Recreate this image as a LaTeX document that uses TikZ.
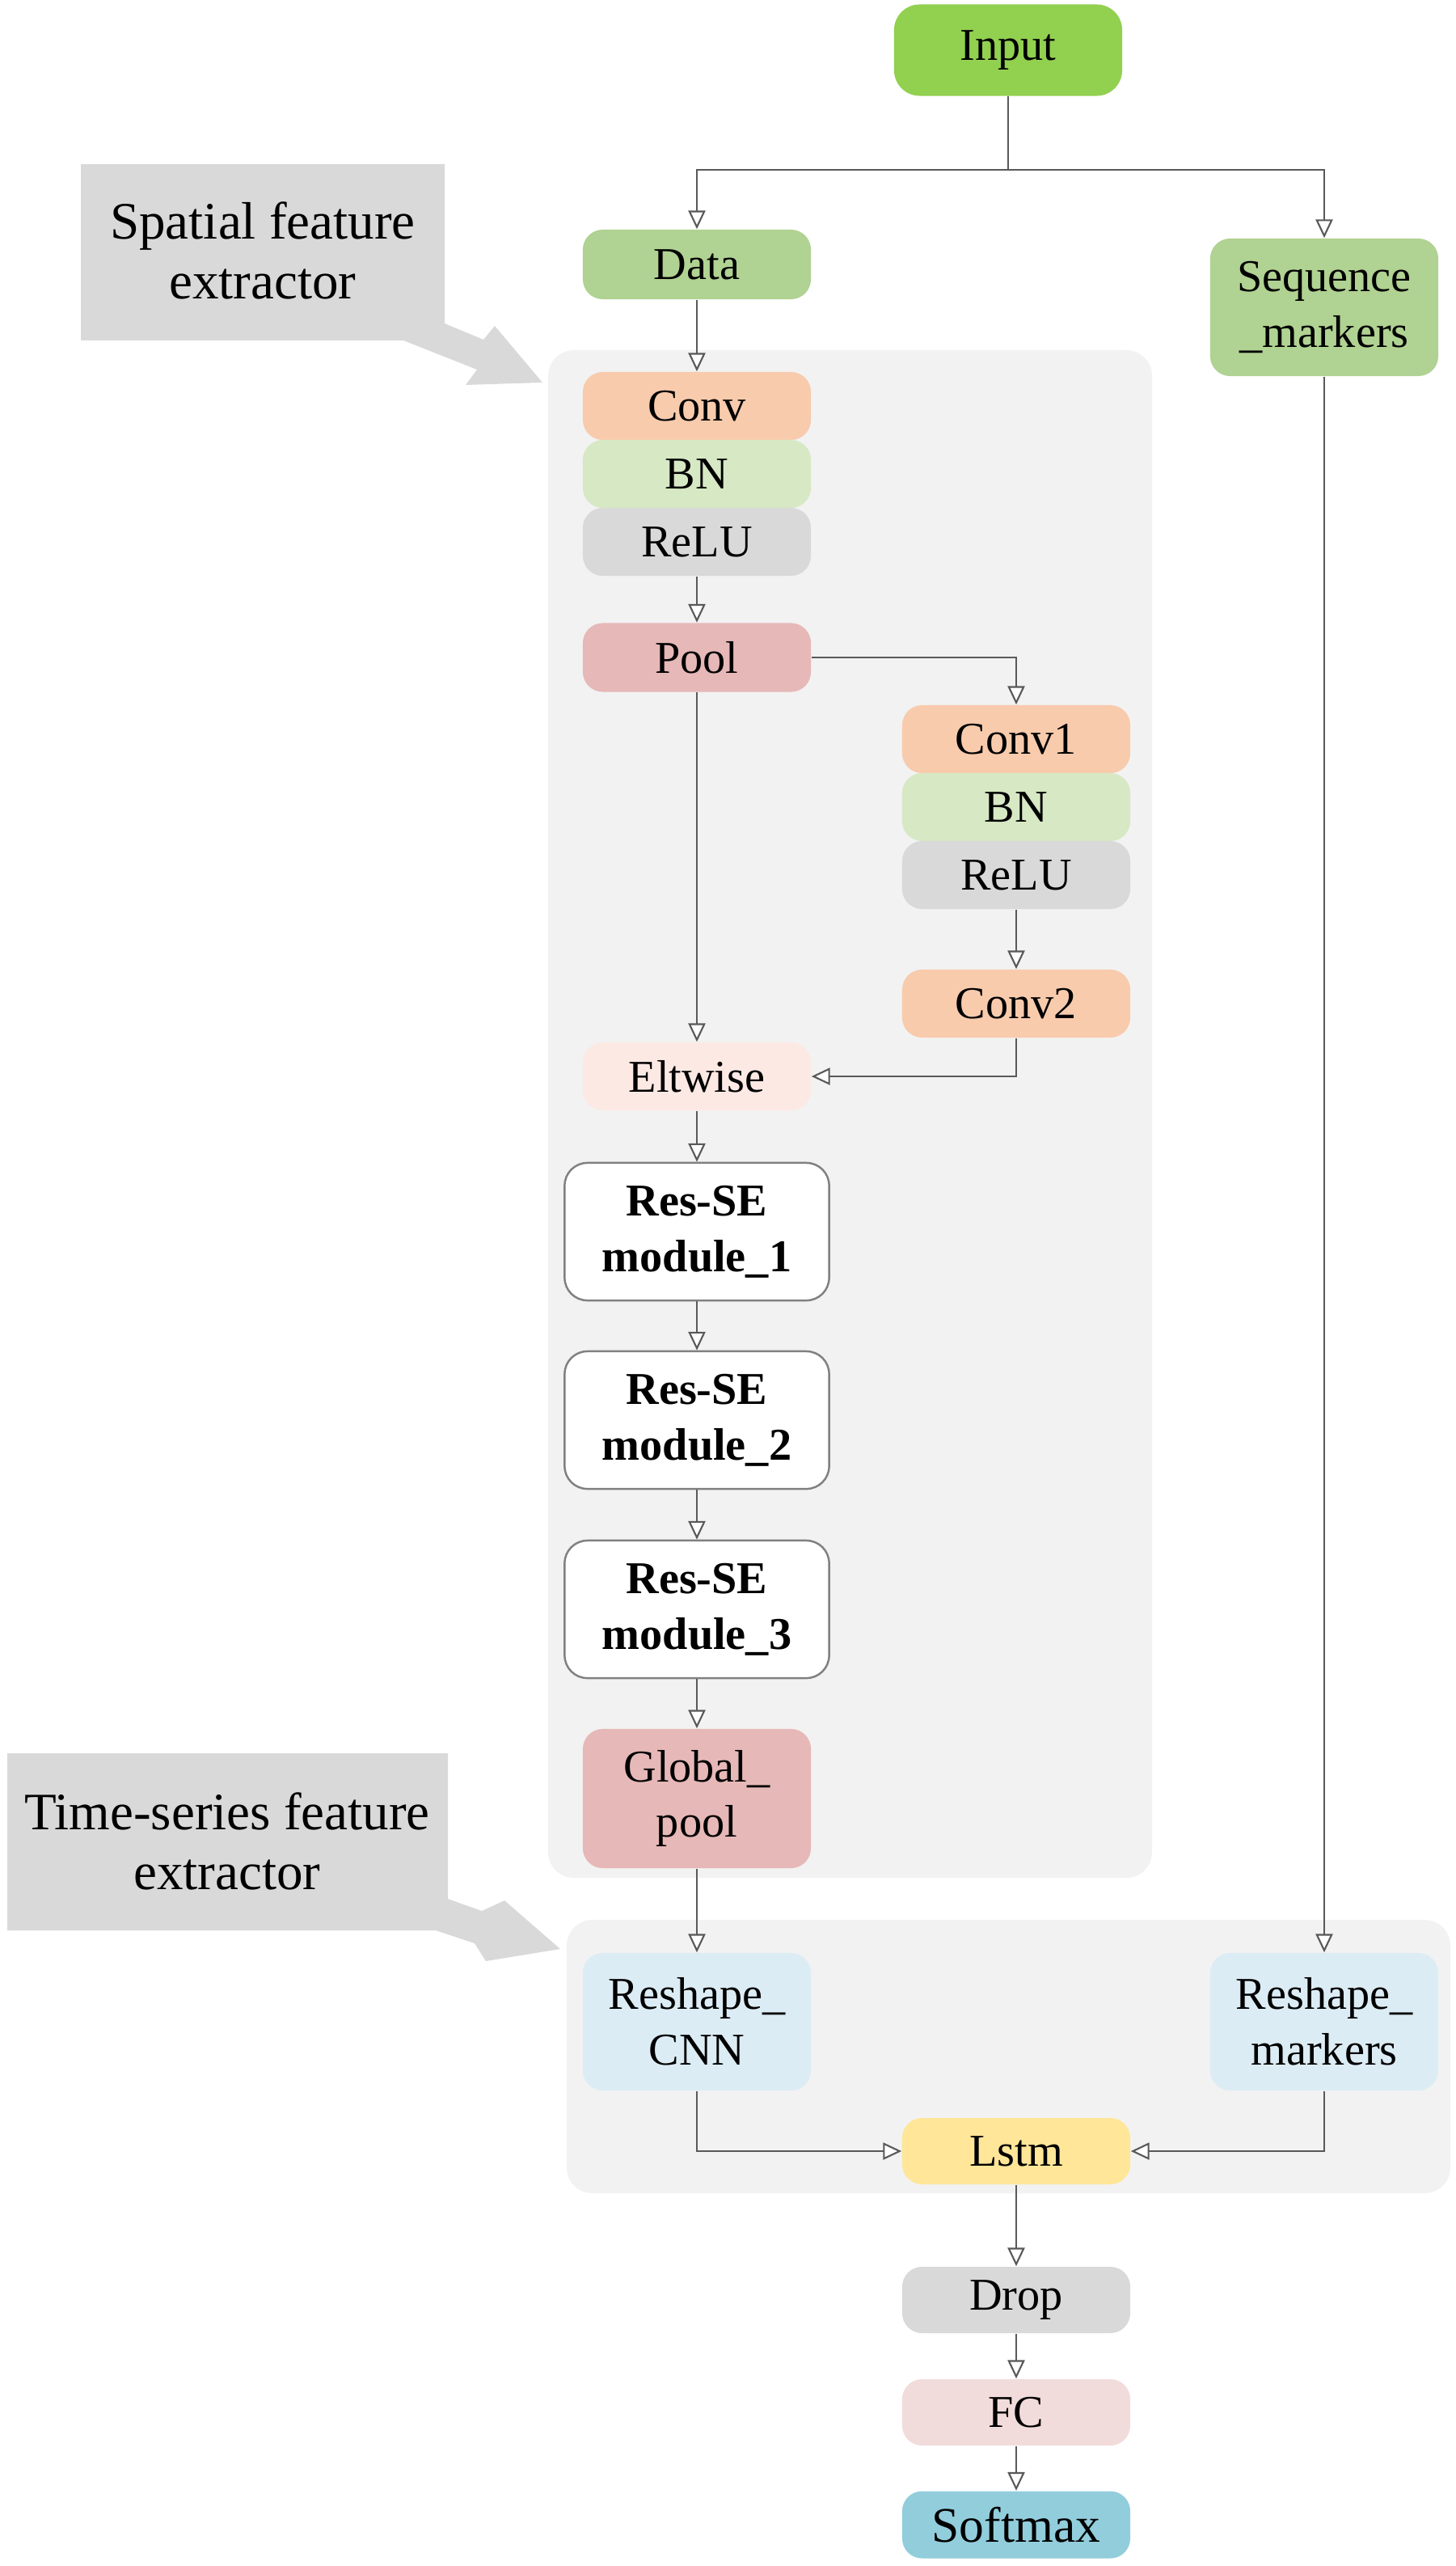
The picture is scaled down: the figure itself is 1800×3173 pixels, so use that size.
\documentclass[tikz,border=0pt]{standalone}
\usepackage{fontspec}
\setmainfont{Liberation Serif}
\usetikzlibrary{arrows.meta}
\definecolor{grpgray}{HTML}{F2F2F2}
\definecolor{callgray}{HTML}{D9D9D9}
\definecolor{inputgreen}{HTML}{92D050}
\definecolor{datagreen}{HTML}{B0D292}
\definecolor{convorange}{HTML}{F8CBAD}
\definecolor{bngreen}{HTML}{D7E8C4}
\definecolor{relugray}{HTML}{D9D9D9}
\definecolor{poolred}{HTML}{E6B8B7}
\definecolor{eltpink}{HTML}{FCE9E4}
\definecolor{reshblue}{HTML}{DCECF4}
\definecolor{lstmyellow}{HTML}{FFE699}
\definecolor{fcpink}{HTML}{F2DCDB}
\definecolor{softblue}{HTML}{92CDDC}
\begin{document}
\begin{tikzpicture}[x=0.01cm,y=-0.01cm,
  blk/.style={rounded corners=7pt,minimum width=2.82cm,minimum height=0.84cm,inner sep=0pt,align=center,font=\fontsize{16}{19.5}\selectfont},
  tall/.style={blk,minimum height=1.70cm},
  resse/.style={tall,draw=black!50,line width=0.7pt,fill=white,minimum width=3.27cm,rounded corners=8pt,font=\fontsize{16}{19.5}\selectfont\bfseries},
  flow/.style={draw=black!65,line width=0.6pt,-{Triangle[length=6.5pt,width=6pt,fill=white]}},
  grp/.style={fill=grpgray,rounded corners=9pt},
  callout/.style={fill=callgray},
  calltext/.style={align=center,font=\fontsize{18.5}{21}\selectfont}]
\useasboundingbox (0,0) rectangle (1800,3173);
\fill[grp] (678,433) rectangle (1425,2322);
\fill[grp] (701,2374) rectangle (1794,2712);
\fill[callout] (100,203) -- (550,203) -- (550,400) -- (598,420) -- (612,403) -- (671,473) -- (576,476) -- (590,457) -- (499,421) -- (100,421) -- cycle;
\node[calltext] (spatial) at (325,310) {Spatial feature\\extractor};
\fill[callout] (9,2168) -- (554,2168) -- (554,2348) -- (596,2363) -- (624,2350) -- (693,2410) -- (601,2425) -- (587,2403) -- (539,2387) -- (9,2387) -- cycle;
\node[calltext] (tseries) at (281,2277) {Time-series feature\\extractor};
\node[blk,fill=inputgreen,minimum height=1.13cm,rounded corners=9pt] (input) at (1247,62) {Input};
\coordinate (split) at (1247,210);
\node[blk,fill=datagreen,minimum height=0.86cm] (data) at (862,327) {Data};
\node[tall,fill=datagreen] (seq) at (1638,380) {Sequence\\\_markers};
\node[blk,fill=convorange] (conv) at (862,502) {Conv};
\node[blk,fill=bngreen] (bn) at (862,586) {BN};
\node[blk,fill=relugray] (relu) at (862,670) {ReLU};
\node[blk,fill=poolred,minimum height=0.85cm] (pool) at (862,813) {Pool};
\node[blk,fill=convorange] (conva) at (1257,914) {Conv1};
\node[blk,fill=bngreen] (bna) at (1257,998) {BN};
\node[blk,fill=relugray] (relua) at (1257,1082) {ReLU};
\node[blk,fill=convorange] (convb) at (1257,1241) {Conv2};
\node[blk,fill=eltpink] (elt) at (862,1331) {Eltwise};
\node[resse] (resa) at (862,1523) {Res-SE\\module\_1};
\node[resse] (resb) at (862,1756) {Res-SE\\module\_2};
\node[resse] (resc) at (862,1990) {Res-SE\\module\_3};
\node[tall,fill=poolred,minimum height=1.72cm] (gpool) at (862,2224) {Global\_\\pool};
\node[tall,fill=reshblue] (rcnn) at (862,2500) {Reshape\_\\CNN};
\node[tall,fill=reshblue] (rmark) at (1638,2500) {Reshape\_\\markers};
\node[blk,fill=lstmyellow,minimum height=0.82cm] (lstm) at (1257,2660) {Lstm};
\node[blk,fill=relugray,minimum height=0.82cm] (drop) at (1257,2844) {Drop};
\node[blk,fill=fcpink,minimum height=0.82cm] (fc) at (1257,2983) {FC};
\node[blk,fill=softblue,minimum height=0.83cm,font=\fontsize{17.5}{21}\selectfont] (soft) at (1257,3122) {Softmax};
\draw[flow] (input.south) -- (split) -| (data.north);
\draw[flow] (split) -| (seq.north);
\draw[flow] (data.south) -- (conv.north);
\draw[flow] (relu.south) -- (pool.north);
\draw[flow] (pool.east) -| (conva.north);
\draw[flow] (relua.south) -- (convb.north);
\draw[flow] (pool.south) -- (elt.north);
\draw[flow] (convb.south) |- (elt.east);
\draw[flow] (elt.south) -- (resa.north);
\draw[flow] (resa.south) -- (resb.north);
\draw[flow] (resb.south) -- (resc.north);
\draw[flow] (resc.south) -- (gpool.north);
\draw[flow] (gpool.south) -- (rcnn.north);
\draw[flow] (seq.south) -- (rmark.north);
\draw[flow] (rcnn.south) |- (lstm.west);
\draw[flow] (rmark.south) |- (lstm.east);
\draw[flow] (lstm.south) -- (drop.north);
\draw[flow] (drop.south) -- (fc.north);
\draw[flow] (fc.south) -- (soft.north);
\end{tikzpicture}
\end{document}
